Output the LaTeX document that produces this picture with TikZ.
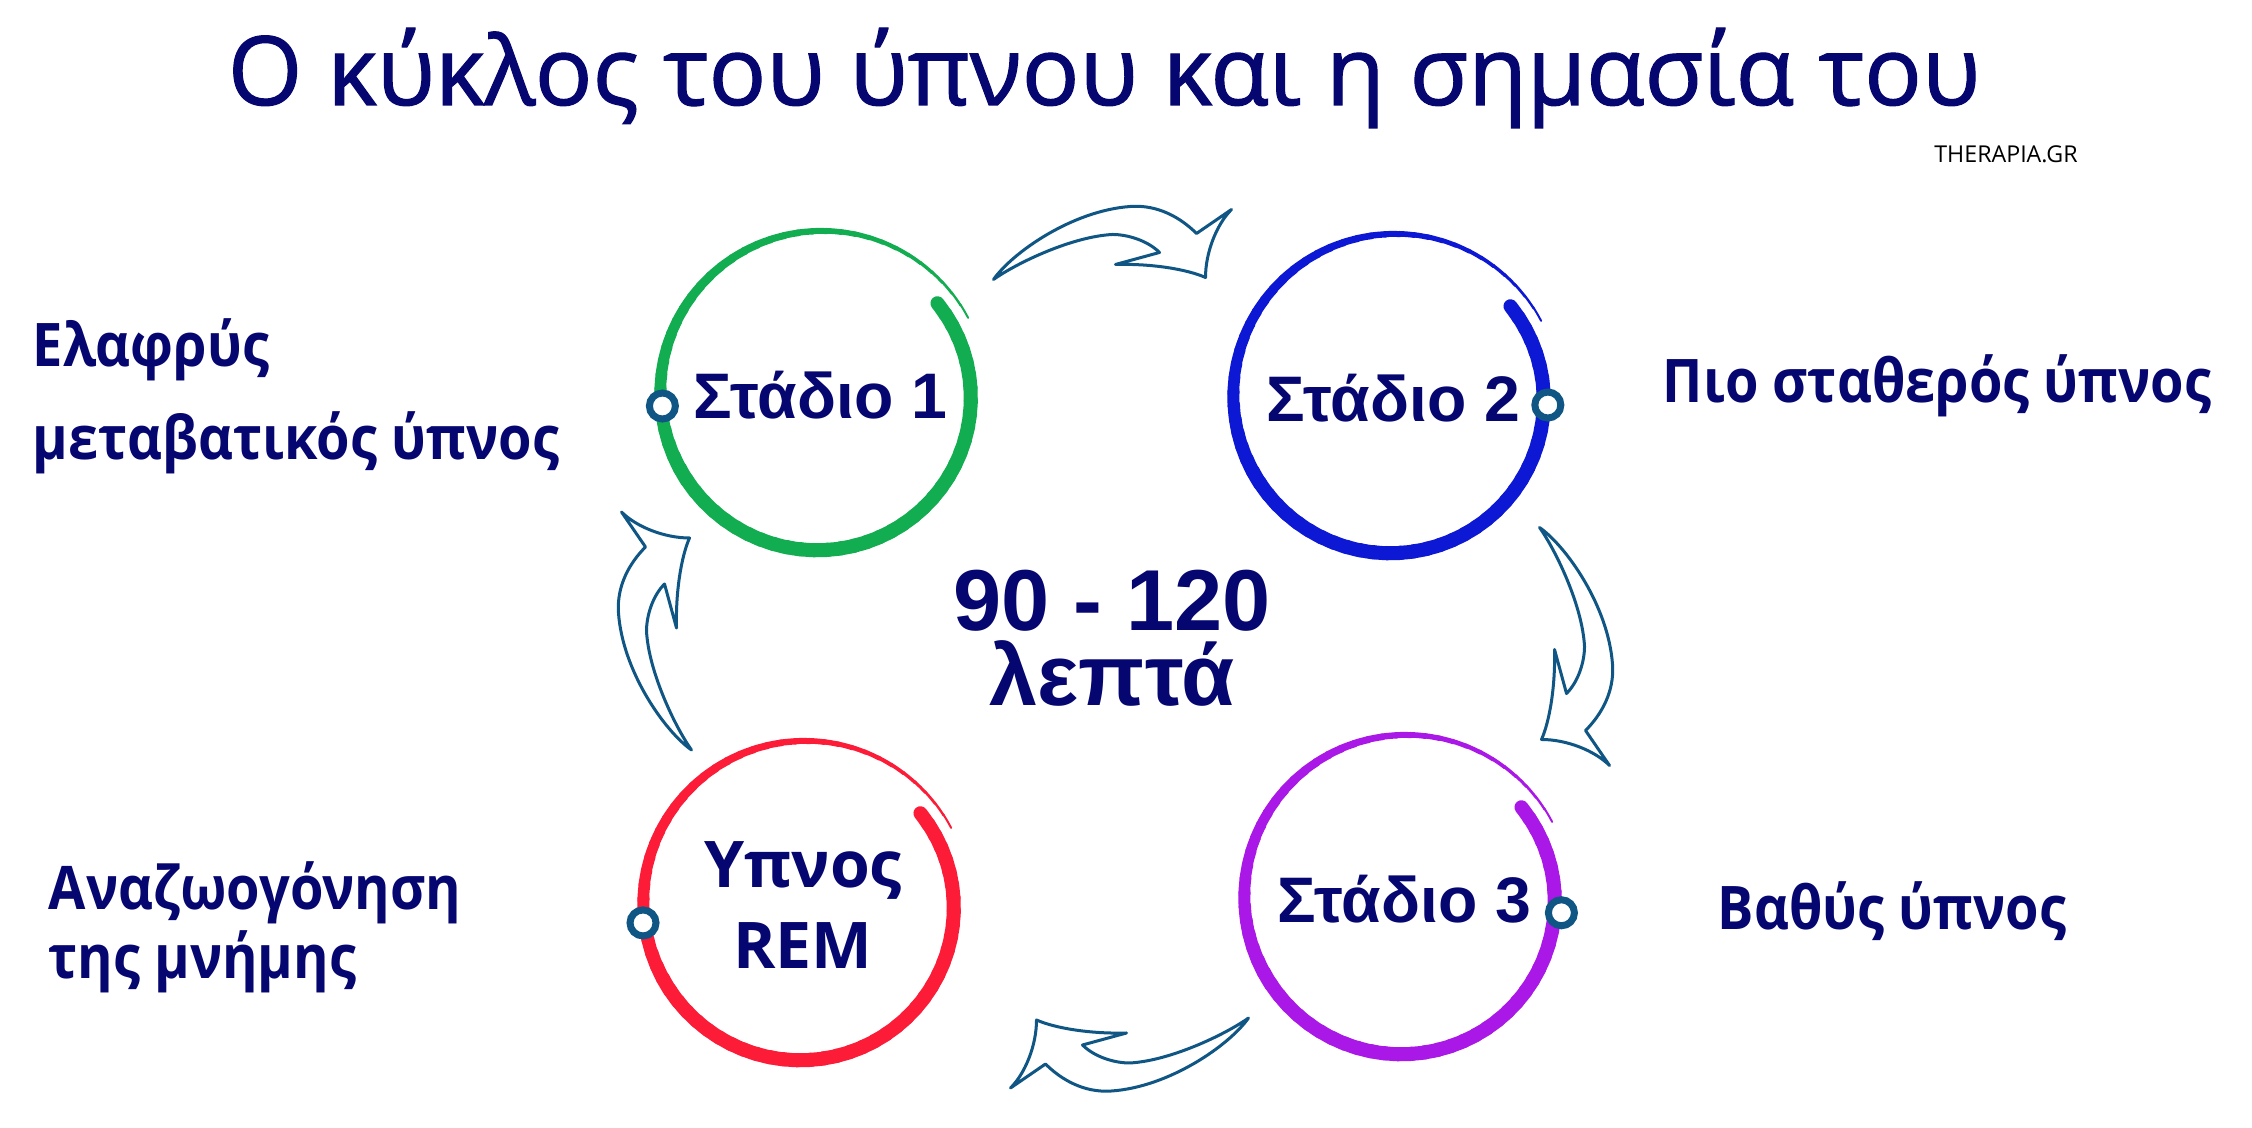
\documentclass[tikz,border=0pt]{standalone}
\usepackage{fontspec}
\setmainfont{Liberation Sans}
\newfontfamily\osans{Open Sans}
\newfontfamily\osheavy{Open Sans}[FakeBold=1.2]
\newfontfamily\osnarrow{Open Sans}[FakeStretch=0.9]
\usetikzlibrary{calc}
\definecolor{navy}{RGB}{6,6,112}
\definecolor{arrowblue}{RGB}{16,86,132}
\definecolor{ringgreen}{RGB}{18,173,80}
\definecolor{ringblue}{RGB}{12,24,212}
\definecolor{ringpurple}{RGB}{170,24,232}
\definecolor{ringred}{RGB}{252,28,56}
\begin{document}
\begin{tikzpicture}[x=0.01cm,y=0.01cm,
    stage/.style={text=navy,font=\bfseries\fontsize{18.3}{22}\selectfont},
    side/.style={text=navy,font=\osnarrow\bfseries\fontsize{17.1}{26.7}\selectfont,align=left,anchor=base west,inner sep=0pt},
    marker/.style={circle,draw=arrowblue,fill=white,line width=0.07cm,minimum size=0.26cm,inner sep=0pt},
    arrowline/.style={draw=arrowblue,fill=white,line width=0.03cm,line join=round},
    cyclearrow/.pic={
      \draw[arrowline] (-119,-37) .. controls (-100,-10) and (-40,32) .. (18,36)
        .. controls (45,38) and (68,25) .. (84,9) -- (119,33)
        .. controls (104,18) and (93,-10) .. (93,-35)
        .. controls (75,-27) and (40,-21) .. (3,-22) -- (47,-10)
        .. controls (35,2) and (15,8) .. (0,8)
        .. controls (-40,6) and (-95,-20) .. (-119,-37) -- cycle;
    },
    brushring/.pic={
      \foreach \i in {0,...,73}{
        \pgfmathsetmacro\a{38-5*\i}
        \pgfmathsetmacro\r{149+18*\i/73}
        \pgfmathsetmacro\w{0.2845*(14-12*max(\i-37,0)/36)}
        \draw[#1,line width=\w pt,line cap=round] (\a:\r) arc[start angle=\a,end angle=\a-5.5,radius=\r];
      }
    }]
  \fill[white] (0,0) rectangle (2252,1128);
  \useasboundingbox (0,0) rectangle (2252,1128);

  \node[text=navy,font=\osheavy\fontsize{27.2}{30}\selectfont,anchor=base] (title) at (1104,1023) {Ο κύκλος του ύπνου και η σημασία του};
  \node[font=\osans\fontsize{6.6}{8}\selectfont,anchor=base] (site) at (2006,965) {THERAPIA.GR};

  \node[stage] (s1) at (820,733) {Στάδιο 1};
  \node[stage] (s2) at (1393,730) {Στάδιο 2};
  \node[stage] (s3) at (1404,229) {Στάδιο 3};
  \node[text=navy,font=\osans\bfseries\fontsize{18.3}{22.8}\selectfont,align=center] (rem) at (803,223) {Υπνος\\REM};
  \node[text=navy,font=\bfseries\fontsize{24.6}{21.3}\selectfont,align=center] (mins) at (1112,490) {90 - 120\\λεπτά};

  \pic at (s1) {brushring=ringgreen};
  \pic at (s2) {brushring=ringblue};
  \pic at (s3) {brushring=ringpurple};
  \pic at (rem) {brushring=ringred};

  \node[marker] (m1) at ($(s1)+(184:158)$) {};
  \node[marker] (m2) at ($(s2)+(-2.6:155)$) {};
  \node[marker] (m3) at ($(s3)+(-5:158)$) {};
  \node[marker] (m4) at ($(rem)+(186.4:161)$) {};

  \pic at ($(s1)!0.5!(s2)+(6,154)$) {cyclearrow};
  \pic[rotate=-90] at ($(s2)!0.5!(s3)+(178,2)$) {cyclearrow};
  \pic[rotate=180] at ($(s3)!0.5!(rem)+(26,-153)$) {cyclearrow};
  \pic[rotate=90] at ($(s1)!0.5!(rem)+(-157,19)$) {cyclearrow};

  \node[side] (l1) at (32,668) {Ελαφρύς\\μεταβατικός ύπνος};
  \node[side] (l2) at (1662,725) {Πιο σταθερός ύπνος};
  \node[side] (l3) at (1717,198) {Βαθύς ύπνος};
  \node[side,font=\osnarrow\bfseries\fontsize{17.1}{19.9}\selectfont] (l4) at (48,149) {Αναζωογόνηση\\της μνήμης};
\end{tikzpicture}
\end{document}
